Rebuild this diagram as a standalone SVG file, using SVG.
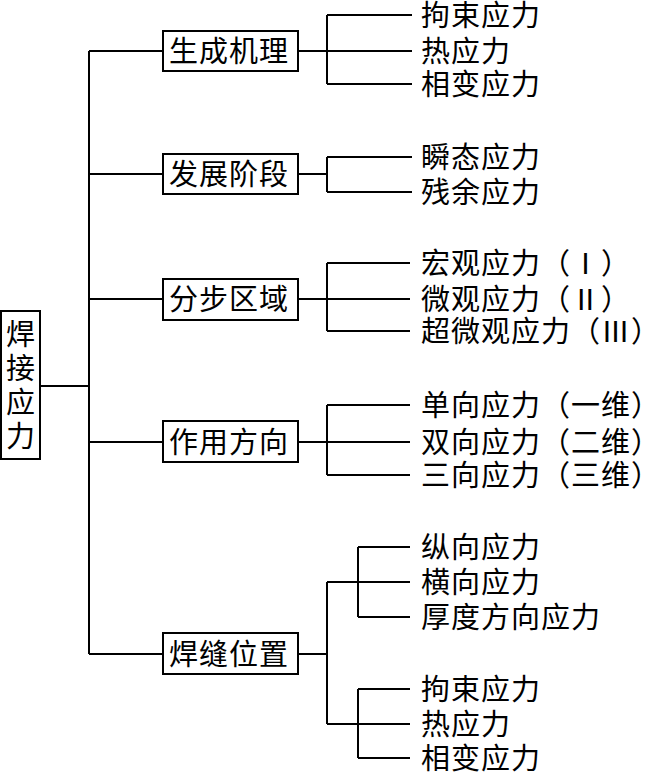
<svg xmlns="http://www.w3.org/2000/svg" width="656" height="774" viewBox="0 0 656 774">
<style>
.box{fill:#fff;stroke:#000;stroke-width:2}
.t{font-family:"Noto Sans CJK SC","Noto Sans",sans-serif;font-size:29px;letter-spacing:1px;fill:#000}
.c{fill:none;stroke:#000;stroke-width:2}
</style>
<rect width="656" height="774" fill="#fff"/>
<g id="connectors" class="c">
<path d="M40 386H89 M89 51V654 M89 51H163 M89 174H163 M89 299H163 M89 442H163 M89 654H163"/>
<path d="M298 51H327 M327 15V84 M327 15H412 M327 51H412 M327 84H412"/>
<path d="M298 174H327 M327 157V192 M327 157H412 M327 192H412"/>
<path d="M298 299H327 M327 263V331 M327 263H410 M327 299H410 M327 331H410"/>
<path d="M298 442H327 M327 405V475 M327 405H410 M327 442H410 M327 475H410"/>
<path d="M298 654H327 M327 582V724 M327 582H410 M327 724H410 M358 547V617 M358 547H410 M358 617H410 M358 689V758 M358 689H410 M358 758H410"/>
</g>
<g id="root">
<rect class="box" x="1" y="311" width="39" height="148"/>
<text class="t" x="6" y="345">焊</text>
<text class="t" x="6" y="379">接</text>
<text class="t" x="6" y="413">应</text>
<text class="t" x="6" y="447">力</text>
</g>
<g id="n1"><rect class="box" x="163" y="31" width="135" height="40"/><text class="t" x="169" y="62">生成机理</text></g>
<g id="n2"><rect class="box" x="163" y="154" width="135" height="40"/><text class="t" x="169" y="185">发展阶段</text></g>
<g id="n3"><rect class="box" x="163" y="279" width="135" height="41"/><text class="t" x="169" y="310">分步区域</text></g>
<g id="n4"><rect class="box" x="163" y="421" width="135" height="41"/><text class="t" x="169" y="453">作用方向</text></g>
<g id="n5"><rect class="box" x="163" y="633" width="135" height="41"/><text class="t" x="169" y="665">焊缝位置</text></g>
<g id="l1a"><text class="t" x="421" y="26">拘束应力</text></g>
<g id="l1b"><text class="t" x="421" y="62">热应力</text></g>
<g id="l1c"><text class="t" x="421" y="95">相变应力</text></g>
<g id="l2a"><text class="t" x="421" y="168">瞬态应力</text></g>
<g id="l2b"><text class="t" x="421" y="203">残余应力</text></g>
<g id="l3a"><text class="t" x="421" y="274">宏观应力（Ⅰ）</text></g>
<g id="l3b"><text class="t" x="421" y="310">微观应力（Ⅱ）</text></g>
<g id="l3c"><text class="t" x="421" y="342">超微观应力（Ⅲ）</text></g>
<g id="l4a"><text class="t" x="421" y="416">单向应力（一维）</text></g>
<g id="l4b"><text class="t" x="421" y="453">双向应力（二维）</text></g>
<g id="l4c"><text class="t" x="421" y="486">三向应力（三维）</text></g>
<g id="l5a"><text class="t" x="421" y="558">纵向应力</text></g>
<g id="l5b"><text class="t" x="421" y="593">横向应力</text></g>
<g id="l5c"><text class="t" x="421" y="628">厚度方向应力</text></g>
<g id="l5d"><text class="t" x="421" y="700">拘束应力</text></g>
<g id="l5e"><text class="t" x="421" y="735">热应力</text></g>
<g id="l5f"><text class="t" x="421" y="769">相变应力</text></g>
</svg>
